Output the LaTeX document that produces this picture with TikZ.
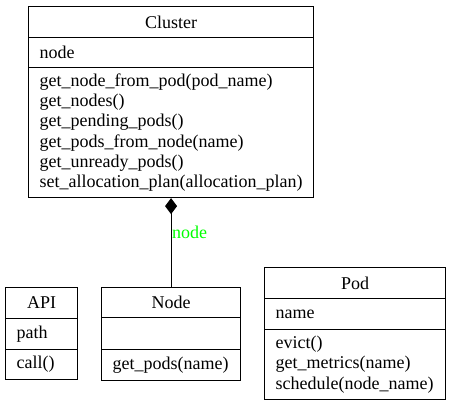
\documentclass[tikz,border=0pt]{standalone}
\usepackage{fontspec}
\setmainfont{Liberation Serif}
\usetikzlibrary{arrows.meta}
\definecolor{lblgreen}{RGB}{0,255,0}
\tikzset{
  comp/.style={draw, line width=1.1pt, anchor=north west, inner xsep=11pt, inner ysep=0pt,
    font=\fontsize{18}{20.2}\selectfont},
  ttl/.style={comp, align=center},
  lst/.style={comp, align=left},
  link/.style={line width=1.1pt},
  lbl/.style={text=lblgreen, font=\fontsize{18}{20.2}\selectfont, inner sep=0.5pt},
}
\begin{document}
\begin{tikzpicture}[x=1pt,y=-1pt]
\useasboundingbox (0,0) rectangle (451,405);
% Cluster
\node[ttl, text width=263pt, minimum height=31pt] (cluster-title) at (28,6) {Cluster};
\node[lst, text width=263pt, minimum height=30pt] (cluster-attrs) at (28,37) {node};
\node[lst, text width=263pt, minimum height=130pt] (cluster-methods) at (28,67)
  {get\_node\_from\_pod(pod\_name)\\get\_nodes()\\get\_pending\_pods()\\get\_pods\_from\_node(name)\\get\_unready\_pods()\\set\_allocation\_plan(allocation\_plan)};
% API
\node[ttl, text width=50pt, minimum height=31pt] (api-title) at (5,287) {API};
\node[lst, text width=50pt, minimum height=31pt] (api-attrs) at (5,318) {path};
\node[lst, text width=50pt, minimum height=30pt] (api-methods) at (5,349) {call()};
% Node
\node[ttl, text width=117pt, minimum height=30pt] (node-title) at (101,287) {Node};
\node[lst, text width=117pt, minimum height=32pt] (node-attrs) at (101,317) {};
\node[lst, text width=117pt, minimum height=31pt] (node-methods) at (101,349) {get\_pods(name)};
% Pod
\node[ttl, text width=159pt, minimum height=31pt] (pod-title) at (264,267) {Pod};
\node[lst, text width=159pt, minimum height=31pt] (pod-attrs) at (264,298) {name};
\node[lst, text width=159pt, minimum height=70pt] (pod-methods) at (264,329)
  {evict()\\get\_metrics(name)\\schedule(node\_name)};
% composition
\draw[link, {Diamond[width=12pt,length=16pt]}-] (cluster-methods.south) -- node[lbl, pos=0.455, anchor=base west] (lbl-node) {node} (node-title.north);
\end{tikzpicture}
\end{document}
